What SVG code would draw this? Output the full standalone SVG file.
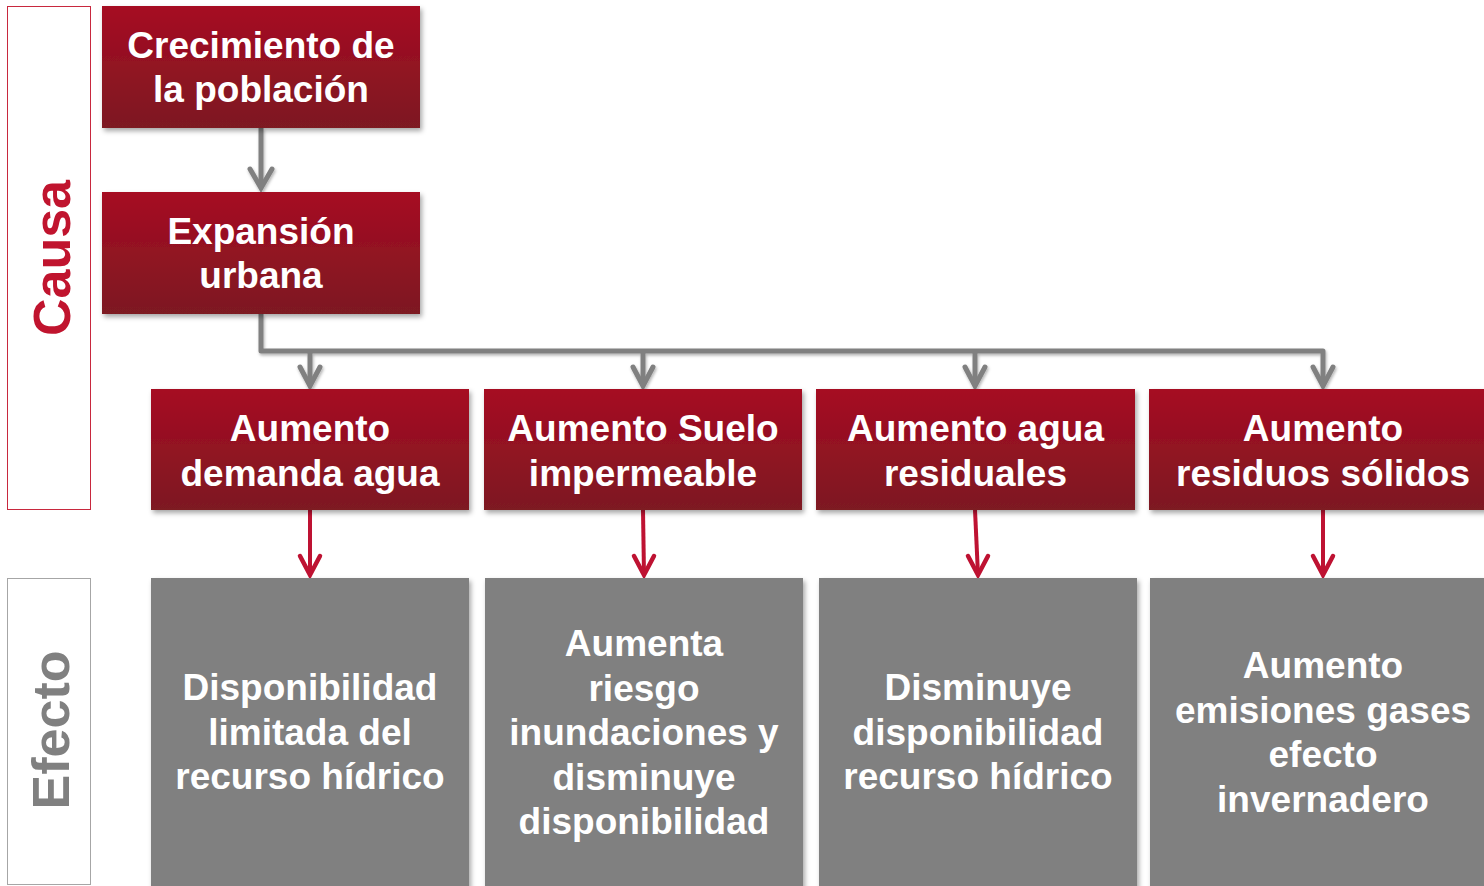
<svg xmlns="http://www.w3.org/2000/svg" width="1484" height="886" viewBox="0 0 1484 886">
<defs>
<linearGradient id="redGrad" x1="0" y1="0" x2="0" y2="1">
<stop offset="0" stop-color="#a60b20"/>
<stop offset="1" stop-color="#7d1a22"/>
</linearGradient>
<filter id="shadow" x="-5%" y="-5%" width="115%" height="125%">
<feDropShadow dx="2" dy="3" stdDeviation="2.5" flood-color="#000" flood-opacity="0.35"/>
</filter>
<filter id="lshadow" x="-5%" y="-5%" width="115%" height="125%">
<feDropShadow dx="1" dy="2" stdDeviation="1.5" flood-color="#000" flood-opacity="0.3"/>
</filter>
</defs>
<style>
.red{fill:url(#redGrad);filter:url(#shadow)}
.grey{fill:#808080;filter:url(#shadow)}
.t{font-family:"Liberation Sans",Arial,sans-serif;font-weight:bold;font-size:37px;fill:#fff;text-anchor:middle}
.side{font-family:"Liberation Sans",Arial,sans-serif;font-weight:bold;font-size:52px;text-anchor:middle}
.gline{fill:none;stroke:#808080;stroke-width:5;stroke-linejoin:round;stroke-linecap:butt}
.ghead{fill:none;stroke:#808080;stroke-width:5;stroke-linejoin:miter;stroke-linecap:round}
.rline{fill:none;stroke:#be1232;stroke-width:4}
.rhead{fill:none;stroke:#be1232;stroke-width:4.5;stroke-linejoin:miter;stroke-linecap:round}
</style>
<rect width="1484" height="886" fill="#fff"/>

<g id="label-causa">
<rect x="7.5" y="6.5" width="83" height="503" fill="none" stroke="#c8283e" stroke-width="1"/>
<text class="side" fill="#c0142e" transform="translate(70,258) rotate(-90)">Causa</text>
</g>
<g id="label-efecto">
<rect x="7.5" y="578.5" width="83" height="306" fill="none" stroke="#a6a6a6" stroke-width="1"/>
<text class="side" fill="#808080" transform="translate(69,730) rotate(-90)">Efecto</text>
</g>

<g id="connectors">
<g filter="url(#lshadow)">
<line class="gline" x1="261" y1="128" x2="261" y2="188"/>
<polyline class="ghead" points="250,169 261,188 272,169"/>
<polyline class="gline" points="261,314 261,351 1323,351 1323,386"/>
<line class="gline" x1="310" y1="351" x2="310" y2="386"/>
<line class="gline" x1="643" y1="351" x2="643" y2="386"/>
<line class="gline" x1="975" y1="351" x2="975" y2="386"/>
<polyline class="ghead" points="300,367 310,386 320,367"/>
<polyline class="ghead" points="633,367 643,386 653,367"/>
<polyline class="ghead" points="965,367 975,386 985,367"/>
<polyline class="ghead" points="1313,367 1323,386 1333,367"/>
</g>
<g>
<line class="rline" x1="310" y1="510" x2="310" y2="575"/>
<polyline class="rhead" points="300,556 310,575 320,556"/>
<line class="rline" x1="643" y1="510" x2="644" y2="575"/>
<polyline class="rhead" points="634,556 644,575 654,556"/>
<line class="rline" x1="975" y1="510" x2="978" y2="575"/>
<polyline class="rhead" points="968,556 978,575 988,556"/>
<line class="rline" x1="1323" y1="510" x2="1323" y2="575"/>
<polyline class="rhead" points="1313,556 1323,575 1333,556"/>
</g>
</g>

<g id="n-crecimiento">
<rect class="red" x="102" y="6" width="318" height="122"/>
<text class="t" x="261" y="58">Crecimiento de</text>
<text class="t" x="261" y="102">la población</text>
</g>
<g id="n-expansion">
<rect class="red" x="102" y="192" width="318" height="122"/>
<text class="t" x="261" y="244">Expansión</text>
<text class="t" x="261" y="288">urbana</text>
</g>

<g id="n-demanda">
<rect class="red" x="151" y="389" width="318" height="121"/>
<text class="t" x="310" y="441">Aumento</text>
<text class="t" x="310" y="486">demanda agua</text>
</g>
<g id="n-suelo">
<rect class="red" x="484" y="389" width="318" height="121"/>
<text class="t" x="643" y="441">Aumento Suelo</text>
<text class="t" x="643" y="486">impermeable</text>
</g>
<g id="n-residuales">
<rect class="red" x="816" y="389" width="319" height="121"/>
<text class="t" x="975.5" y="441">Aumento agua</text>
<text class="t" x="975.5" y="486">residuales</text>
</g>
<g id="n-solidos">
<rect class="red" x="1149" y="389" width="350" height="121"/>
<text class="t" x="1323" y="441">Aumento</text>
<text class="t" x="1323" y="486">residuos sólidos</text>
</g>

<g id="e-disponibilidad">
<rect class="grey" x="151" y="578" width="318" height="312"/>
<text class="t" x="310" y="700">Disponibilidad</text>
<text class="t" x="310" y="745">limitada del</text>
<text class="t" x="310" y="789">recurso hídrico</text>
</g>
<g id="e-inundaciones">
<rect class="grey" x="485" y="578" width="318" height="312"/>
<text class="t" x="644" y="656">Aumenta</text>
<text class="t" x="644" y="701">riesgo</text>
<text class="t" x="644" y="745">inundaciones y</text>
<text class="t" x="644" y="790">disminuye</text>
<text class="t" x="644" y="834">disponibilidad</text>
</g>
<g id="e-disminuye">
<rect class="grey" x="819" y="578" width="318" height="312"/>
<text class="t" x="978" y="700">Disminuye</text>
<text class="t" x="978" y="745">disponibilidad</text>
<text class="t" x="978" y="789">recurso hídrico</text>
</g>
<g id="e-emisiones">
<rect class="grey" x="1150" y="578" width="350" height="312"/>
<text class="t" x="1323" y="678">Aumento</text>
<text class="t" x="1323" y="723">emisiones gases</text>
<text class="t" x="1323" y="767">efecto</text>
<text class="t" x="1323" y="812">invernadero</text>
</g>
</svg>
